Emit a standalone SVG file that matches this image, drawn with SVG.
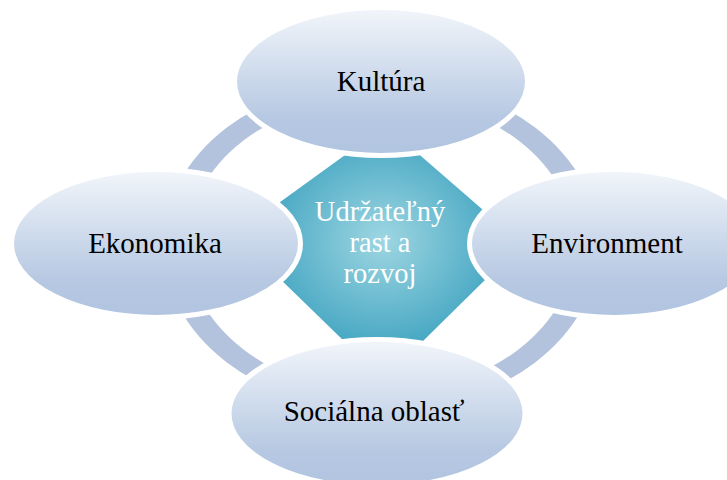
<svg xmlns="http://www.w3.org/2000/svg" width="727" height="480" viewBox="0 0 727 480">
  <defs>
    <linearGradient id="ellGrad" x1="0" y1="0" x2="0" y2="1">
      <stop offset="0" stop-color="#f2f6fb"/>
      <stop offset="0.75" stop-color="#b6c8e2"/>
      <stop offset="1" stop-color="#b1c4e0"/>
    </linearGradient>
    <radialGradient id="octGrad" cx="0.5" cy="0.47" r="0.55">
      <stop offset="0" stop-color="#9ed6e2"/>
      <stop offset="1" stop-color="#48a8c3"/>
    </radialGradient>
    <style>
      .ell { fill: url(#ellGrad); stroke: #ffffff; stroke-width: 5; }
      .lbl { font-family: "Liberation Serif", "Times New Roman", serif; font-size: 29px; fill: #000000; text-anchor: middle; }
      .ctr { font-family: "Liberation Serif", "Times New Roman", serif; font-size: 28.5px; fill: #ffffff; text-anchor: middle; }
      .ring { fill: #b3c3dd; fill-rule: evenodd; }
    </style>
  </defs>
  <rect width="727" height="480" fill="#ffffff"/>
  <g id="connectors">
    <path class="ring" d="M 163 245 A 218 166 0 1 0 599 245 A 218 166 0 1 0 163 245 Z M 187 245 A 194 148 0 1 0 575 245 A 194 148 0 1 0 187 245 Z"/>
  </g>
  <g id="node-center">
    <polygon points="352,150 414,150 490,216 490,275 422,342 345,342 276,275 276,205" fill="url(#octGrad)"/>
    <text class="ctr" x="380" y="221">Udržateľný</text>
    <text class="ctr" x="380" y="252">rast a</text>
    <text class="ctr" x="380" y="283">rozvoj</text>
  </g>
  <g id="node-kultura">
    <ellipse class="ell" cx="381" cy="81.5" rx="146.5" ry="74"/>
    <text class="lbl" x="381" y="91">Kultúra</text>
  </g>
  <g id="node-ekonomika">
    <ellipse class="ell" cx="156" cy="243.5" rx="144.5" ry="74"/>
    <text class="lbl" x="155" y="253">Ekonomika</text>
  </g>
  <g id="node-environment">
    <ellipse class="ell" cx="614" cy="243.5" rx="144.5" ry="74"/>
    <text class="lbl" x="607" y="253">Environment</text>
  </g>
  <g id="node-socialna">
    <ellipse class="ell" cx="377" cy="413.5" rx="148" ry="74"/>
    <text class="lbl" x="374" y="421">Sociálna oblasť</text>
  </g>
</svg>
